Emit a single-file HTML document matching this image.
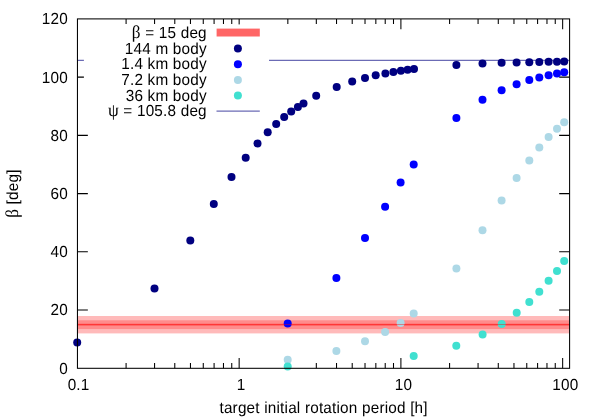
<!DOCTYPE html>
<html><head><meta charset="utf-8"><title>plot</title>
<style>html,body{margin:0;padding:0;background:#fff;overflow:hidden;}svg{display:block;}text{font-family:"Liberation Sans",sans-serif;font-size:16.0px;letter-spacing:0.21px;fill:#000;text-rendering:geometricPrecision;}svg{will-change:transform;}.sym{font-family:"Liberation Serif",serif;font-size:18px;}</style></head><body>
<svg width="598" height="419" viewBox="0 0 598 419">
<rect x="0" y="0" width="598" height="419" fill="#ffffff"/>
<g>
<rect x="77.90" y="316.00" width="491.20" height="17.4" fill="#ffbaba"/>
<rect x="77.90" y="320.30" width="491.20" height="8.8" fill="#ff8b8b"/>
<rect x="77.90" y="323.70" width="491.20" height="2.0" fill="#ff5a5a"/>
</g>
<line x1="77.45" y1="60.4" x2="569.60" y2="60.4" stroke="#6b6bb5" stroke-width="1.1"/>
<g stroke="#000" stroke-width="1.05" fill="none">
<path d="M77.45 310.07h10.4 M569.60 310.07h-10.4"/>
<path d="M77.45 251.83h10.4 M569.60 251.83h-10.4"/>
<path d="M77.45 193.60h10.4 M569.60 193.60h-10.4"/>
<path d="M77.45 135.37h10.4 M569.60 135.37h-10.4"/>
<path d="M77.45 77.13h10.4 M569.60 77.13h-10.4"/>
<path d="M126.09 368.30v-5.2 M126.09 18.90v5.2"/>
<path d="M154.57 368.30v-5.2 M154.57 18.90v5.2"/>
<path d="M174.78 368.30v-5.2 M174.78 18.90v5.2"/>
<path d="M190.46 368.30v-5.2 M190.46 18.90v5.2"/>
<path d="M203.27 368.30v-5.2 M203.27 18.90v5.2"/>
<path d="M214.09 368.30v-5.2 M214.09 18.90v5.2"/>
<path d="M223.47 368.30v-5.2 M223.47 18.90v5.2"/>
<path d="M231.75 368.30v-5.2 M231.75 18.90v5.2"/>
<path d="M239.15 368.30v-10.4 M239.15 18.90v10.4"/>
<path d="M287.84 368.30v-5.2 M287.84 18.90v5.2"/>
<path d="M316.32 368.30v-5.2 M316.32 18.90v5.2"/>
<path d="M336.53 368.30v-5.2 M336.53 18.90v5.2"/>
<path d="M352.21 368.30v-5.2 M352.21 18.90v5.2"/>
<path d="M365.02 368.30v-5.2 M365.02 18.90v5.2"/>
<path d="M375.84 368.30v-5.2 M375.84 18.90v5.2"/>
<path d="M385.22 368.30v-5.2 M385.22 18.90v5.2"/>
<path d="M393.50 368.30v-5.2 M393.50 18.90v5.2"/>
<path d="M400.90 368.30v-10.4 M400.90 18.90v10.4"/>
<path d="M449.59 368.30v-5.2 M449.59 18.90v5.2"/>
<path d="M478.07 368.30v-5.2 M478.07 18.90v5.2"/>
<path d="M498.28 368.30v-5.2 M498.28 18.90v5.2"/>
<path d="M513.96 368.30v-5.2 M513.96 18.90v5.2"/>
<path d="M526.77 368.30v-5.2 M526.77 18.90v5.2"/>
<path d="M537.59 368.30v-5.2 M537.59 18.90v5.2"/>
<path d="M546.97 368.30v-5.2 M546.97 18.90v5.2"/>
<path d="M555.25 368.30v-5.2 M555.25 18.90v5.2"/>
<path d="M562.65 368.30v-10.4 M562.65 18.90v10.4"/>
</g>
<circle cx="77.2" cy="342.6" r="4.0" fill="#000080"/>
<circle cx="154.5" cy="288.5" r="4.0" fill="#000080"/>
<circle cx="190.3" cy="240.6" r="4.0" fill="#000080"/>
<circle cx="213.8" cy="203.9" r="4.0" fill="#000080"/>
<circle cx="231.5" cy="176.9" r="4.0" fill="#000080"/>
<circle cx="245.7" cy="157.8" r="4.0" fill="#000080"/>
<circle cx="257.5" cy="143.5" r="4.0" fill="#000080"/>
<circle cx="267.7" cy="132.2" r="4.0" fill="#000080"/>
<circle cx="276.2" cy="123.9" r="4.0" fill="#000080"/>
<circle cx="284.2" cy="117.0" r="4.0" fill="#000080"/>
<circle cx="291.2" cy="111.6" r="4.0" fill="#000080"/>
<circle cx="297.9" cy="107.1" r="4.0" fill="#000080"/>
<circle cx="303.5" cy="103.4" r="4.0" fill="#000080"/>
<circle cx="316.2" cy="95.8" r="4.0" fill="#000080"/>
<circle cx="336.7" cy="87.1" r="4.0" fill="#000080"/>
<circle cx="352.2" cy="81.5" r="4.0" fill="#000080"/>
<circle cx="365.0" cy="78.0" r="4.0" fill="#000080"/>
<circle cx="375.7" cy="75.3" r="4.0" fill="#000080"/>
<circle cx="385.4" cy="73.4" r="4.0" fill="#000080"/>
<circle cx="393.4" cy="72.1" r="4.0" fill="#000080"/>
<circle cx="400.9" cy="70.8" r="4.0" fill="#000080"/>
<circle cx="407.6" cy="69.7" r="4.0" fill="#000080"/>
<circle cx="414.0" cy="68.9" r="4.0" fill="#000080"/>
<circle cx="456.4" cy="65.0" r="4.0" fill="#000080"/>
<circle cx="482.5" cy="63.6" r="4.0" fill="#000080"/>
<circle cx="501.6" cy="62.8" r="4.0" fill="#000080"/>
<circle cx="516.6" cy="62.5" r="4.0" fill="#000080"/>
<circle cx="529.3" cy="62.2" r="4.0" fill="#000080"/>
<circle cx="539.3" cy="62.0" r="4.0" fill="#000080"/>
<circle cx="548.6" cy="61.7" r="4.0" fill="#000080"/>
<circle cx="557.0" cy="61.7" r="4.0" fill="#000080"/>
<circle cx="564.2" cy="61.4" r="4.0" fill="#000080"/>
<circle cx="287.7" cy="323.4" r="4.0" fill="#0000ff"/>
<circle cx="336.4" cy="277.9" r="4.0" fill="#0000ff"/>
<circle cx="365.0" cy="238.0" r="4.0" fill="#0000ff"/>
<circle cx="385.1" cy="206.7" r="4.0" fill="#0000ff"/>
<circle cx="400.6" cy="182.6" r="4.0" fill="#0000ff"/>
<circle cx="413.7" cy="164.4" r="4.0" fill="#0000ff"/>
<circle cx="456.4" cy="117.9" r="4.0" fill="#0000ff"/>
<circle cx="482.5" cy="99.7" r="4.0" fill="#0000ff"/>
<circle cx="501.6" cy="90.2" r="4.0" fill="#0000ff"/>
<circle cx="516.6" cy="84.2" r="4.0" fill="#0000ff"/>
<circle cx="529.3" cy="79.9" r="4.0" fill="#0000ff"/>
<circle cx="539.3" cy="77.6" r="4.0" fill="#0000ff"/>
<circle cx="548.6" cy="75.2" r="4.0" fill="#0000ff"/>
<circle cx="557.0" cy="73.6" r="4.0" fill="#0000ff"/>
<circle cx="564.2" cy="72.3" r="4.0" fill="#0000ff"/>
<circle cx="287.7" cy="359.8" r="4.0" fill="#add8e6"/>
<circle cx="336.4" cy="351.0" r="4.0" fill="#add8e6"/>
<circle cx="365.0" cy="341.3" r="4.0" fill="#add8e6"/>
<circle cx="385.1" cy="332.0" r="4.0" fill="#add8e6"/>
<circle cx="400.6" cy="323.1" r="4.0" fill="#add8e6"/>
<circle cx="413.7" cy="313.5" r="4.0" fill="#add8e6"/>
<circle cx="456.4" cy="268.4" r="4.0" fill="#add8e6"/>
<circle cx="482.5" cy="230.3" r="4.0" fill="#add8e6"/>
<circle cx="501.6" cy="200.6" r="4.0" fill="#add8e6"/>
<circle cx="516.6" cy="177.9" r="4.0" fill="#add8e6"/>
<circle cx="529.3" cy="160.5" r="4.0" fill="#add8e6"/>
<circle cx="539.3" cy="147.5" r="4.0" fill="#add8e6"/>
<circle cx="548.6" cy="136.9" r="4.0" fill="#add8e6"/>
<circle cx="557.0" cy="128.8" r="4.0" fill="#add8e6"/>
<circle cx="564.2" cy="122.2" r="4.0" fill="#add8e6"/>
<circle cx="287.7" cy="366.5" r="4.0" fill="#40e0d0"/>
<circle cx="413.7" cy="356.1" r="4.0" fill="#40e0d0"/>
<circle cx="456.3" cy="345.7" r="4.0" fill="#40e0d0"/>
<circle cx="482.6" cy="334.4" r="4.0" fill="#40e0d0"/>
<circle cx="501.7" cy="324.0" r="4.0" fill="#40e0d0"/>
<circle cx="516.7" cy="312.8" r="4.0" fill="#40e0d0"/>
<circle cx="529.3" cy="302.0" r="4.0" fill="#40e0d0"/>
<circle cx="539.3" cy="291.7" r="4.0" fill="#40e0d0"/>
<circle cx="548.6" cy="280.8" r="4.0" fill="#40e0d0"/>
<circle cx="557.0" cy="271.0" r="4.0" fill="#40e0d0"/>
<circle cx="564.2" cy="261.0" r="4.0" fill="#40e0d0"/>
<line x1="77.90" y1="324.55" x2="569.10" y2="324.55" stroke="#ff0000" stroke-opacity="0.4" stroke-width="1.1"/>
<rect x="77.45" y="18.90" width="492.15" height="349.40" stroke="#000" stroke-width="1.05" fill="none"/>
<rect x="83.9" y="24.4" width="185.1" height="94.4" fill="#ffffff"/>
<text transform="translate(206.80,37.80) scale(0.9560,1)" text-anchor="end"><tspan class="sym">β</tspan> = 15 deg</text>
<text transform="translate(206.80,53.50) scale(0.9560,1)" text-anchor="end">144 m body</text>
<text transform="translate(206.80,69.20) scale(0.9560,1)" text-anchor="end">1.4 km body</text>
<text transform="translate(206.80,84.90) scale(0.9560,1)" text-anchor="end">7.2 km body</text>
<text transform="translate(206.80,100.60) scale(0.9560,1)" text-anchor="end">36 km body</text>
<text transform="translate(206.80,116.30) scale(0.9560,1)" text-anchor="end"><tspan class="sym">ψ</tspan> = 105.8 deg</text>
<rect x="216.6" y="28.6" width="43.2" height="7.9" fill="#ff6666"/>
<circle cx="237.9" cy="48.5" r="4.0" fill="#000080"/>
<circle cx="237.9" cy="64.2" r="4.0" fill="#0000ff"/>
<circle cx="237.9" cy="79.9" r="4.0" fill="#add8e6"/>
<circle cx="237.9" cy="95.6" r="4.0" fill="#40e0d0"/>
<line x1="216.5" y1="111.1" x2="259.8" y2="111.1" stroke="#6b6bb5" stroke-width="1.1"/>
<text transform="translate(68.00,373.70) scale(0.9560,1)" text-anchor="end">0</text>
<text transform="translate(68.00,315.47) scale(0.9560,1)" text-anchor="end">20</text>
<text transform="translate(68.00,257.23) scale(0.9560,1)" text-anchor="end">40</text>
<text transform="translate(68.00,199.00) scale(0.9560,1)" text-anchor="end">60</text>
<text transform="translate(68.00,140.77) scale(0.9560,1)" text-anchor="end">80</text>
<text transform="translate(68.00,82.53) scale(0.9560,1)" text-anchor="end">100</text>
<text transform="translate(68.00,24.30) scale(0.9560,1)" text-anchor="end">120</text>
<text transform="translate(78.60,389.50) scale(0.9560,1)" text-anchor="middle">0.1</text>
<text transform="translate(241.10,389.50) scale(0.9560,1)" text-anchor="middle">1</text>
<text transform="translate(403.40,389.50) scale(0.9560,1)" text-anchor="middle">10</text>
<text transform="translate(565.30,389.50) scale(0.9560,1)" text-anchor="middle">100</text>
<text transform="translate(323.60,413.40) scale(0.9560,1)" text-anchor="middle">target initial rotation period [h]</text>
<text transform="translate(18.20,193.60) rotate(-90) scale(0.9560,1)" text-anchor="middle"><tspan class="sym">β</tspan> [deg]</text>
</svg></body></html>
